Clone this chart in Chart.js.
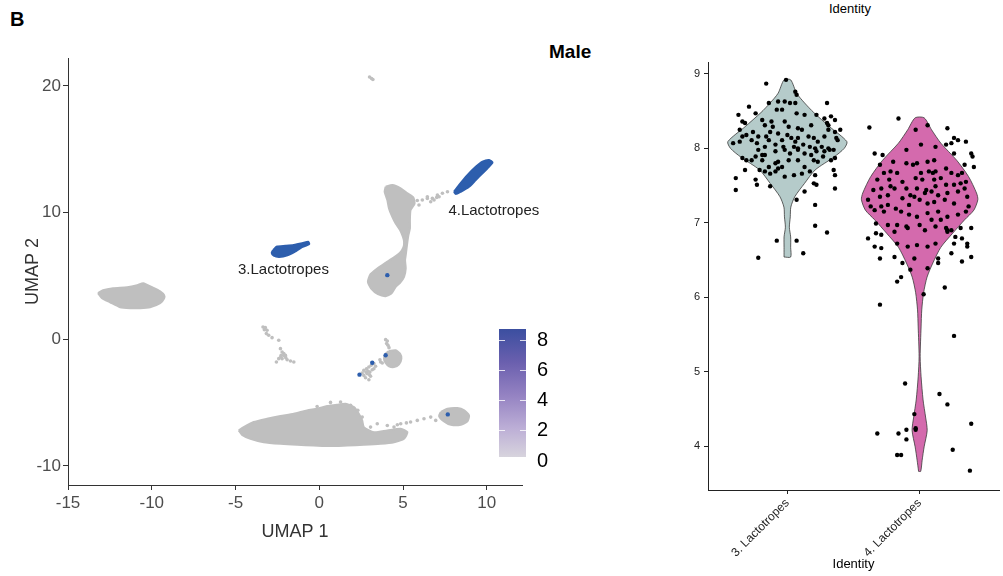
<!DOCTYPE html>
<html>
<head>
<meta charset="utf-8">
<script src="https://cdn.jsdelivr.net/npm/chart.js@4.4.1/dist/chart.umd.min.js"></script>
<style>
  body { margin: 0; background: #fff; width: 1003px; height: 576px; position: relative; overflow: hidden;
         font-family: 'Liberation Sans', Arial, sans-serif; }
  canvas { position: absolute; }
  .txt { position: absolute; white-space: nowrap; line-height: 1; color: #000; }
</style>
</head>
<body>
<div class="txt" style="left:10px;top:9px;font-size:20px;font-weight:bold;">B</div>
<div class="txt" style="left:549px;top:42px;font-size:19px;font-weight:bold;">Male</div>
<div class="txt" style="left:829px;top:2px;font-size:13px;">Identity</div>
<canvas id="umap" width="560" height="576" style="left:0;top:0"></canvas>
<canvas id="legend" width="90" height="178" style="left:490px;top:306px"></canvas>
<canvas id="violin" width="363" height="576" style="left:640px;top:0"></canvas>
<script>
var fontFam = "'Liberation Sans', Arial, sans-serif";

// ---- UMAP (linke Seite) ----
var umapTicksX = [-15, -10, -5, 0, 5, 10];
var umapTicksY = [-10, 0, 10, 20];

// Umrisse der dichten Zellhaufen
var clusterLeft = [[-13.21,3.64],[-12.91,3.87],[-12.31,4.03],[-11.47,4.11],[-10.87,4.27],[-10.51,4.43],[-9.98,4.11],
  [-9.5,3.79],[-9.26,3.48],[-9.26,3.24],[-9.5,2.85],[-10.1,2.53],[-10.69,2.45],[-11.29,2.45],[-11.89,2.53],
  [-12.49,2.92],[-12.97,3.24]];
var clusterTop = [[3.96,12.04],[4.36,12.17],[4.86,11.91],[5.26,11.52],[5.61,11.2],[5.69,10.72],[5.45,10.2],[5.41,9.41],
  [5.41,8.75],[5.32,8.22],[5.26,7.69],[5.21,7.17],[5.16,6.64],[5.12,6.25],[5.16,5.59],[5.06,4.93],[4.82,4.45],
  [4.56,4.14],[4.3,3.61],[3.96,3.4],[3.5,3.56],[3.1,4.0],[2.9,4.53],[3.06,5.14],[3.46,5.59],[3.96,6.03],[4.46,6.46],
  [4.82,6.83],[5.02,7.25],[5.06,7.69],[4.99,8.09],[4.82,8.62],[4.56,9.14],[4.36,9.67],[4.16,10.33],[4.06,10.99],[3.9,11.65]];
var clusterMid = [[4.16,-0.92],[4.56,-0.87],[4.82,-1.13],[4.9,-1.53],[4.76,-1.98],[4.46,-2.19],[4.16,-2.13],[3.96,-1.87],
  [3.86,-1.53],[3.96,-1.13]];
var clusterBottom = [[-4.81,-7.19],[-4.51,-6.93],[-3.92,-6.53],[-3.12,-6.27],[-2.32,-6.06],[-1.52,-5.88],[-0.73,-5.61],
  [-0.13,-5.48],[0.47,-5.27],[1.07,-5.16],[1.57,-5.09],[2.07,-5.35],[2.36,-5.88],[2.56,-6.4],[2.66,-6.93],[3.26,-7.33],
  [4.06,-7.19],[4.86,-7.06],[5.26,-7.33],[5.06,-7.85],[4.46,-8.12],[3.66,-8.25],[2.66,-8.33],[1.67,-8.38],[0.67,-8.43],
  [-0.33,-8.38],[-1.32,-8.33],[-2.32,-8.25],[-3.32,-8.12],[-4.11,-7.85],[-4.61,-7.54]];
var clusterBottomRight = [[7.25,-5.74],[7.65,-5.48],[8.25,-5.43],[8.65,-5.61],[8.94,-6.01],[8.84,-6.48],[8.45,-6.75],
  [7.85,-6.75],[7.45,-6.48],[7.15,-6.06]];
var lact3Outline = [[-2.76,7.04],[-2.52,7.32],[-2.02,7.38],[-1.53,7.45],[-1.02,7.58],[-0.66,7.69],[-0.6,7.52],[-1.1,7.22],
  [-1.45,6.92],[-1.9,6.62],[-2.4,6.5],[-2.72,6.6],[-2.84,6.82]];
var lact4Outline = [[8.04,11.64],[8.34,12.17],[8.84,12.96],[9.34,13.62],[9.74,14.02],[10.14,14.15],[10.34,13.94],
  [10.04,13.49],[9.74,13.1],[9.34,12.57],[8.94,12.04],[8.44,11.64],[8.15,11.46]];

// einzelne Zellen ausserhalb der Haufen
var grayCells = [[6.15,10.99],[6.45,11.25],[6.45,11.12],[6.65,10.86],[6.75,11.12],[6.85,10.99],[7.01,11.2],[7.05,11.38],
  [7.15,11.25],[7.35,11.52],[7.65,11.64],[5.85,10.95],[5.95,10.6],
  [3.0,20.7],[3.12,20.58],[3.2,20.5],
  [-3.36,0.97],[-3.22,0.92],[-3.12,0.71],[-3.28,0.76],[-3.16,0.45],[-3.02,0.32],[-2.82,0.13],[-2.42,-0.08],
  [-2.32,-0.74],[-2.22,-1.0],[-2.12,-1.13],[-2.02,-1.27],[-2.22,-1.53],[-2.42,-1.53],[-1.92,-1.61],[-1.72,-1.71],
  [-1.52,-1.79],[-2.56,-1.79],[-2.12,-1.27],[-2.28,-1.27],[-2.0,-1.45],[-2.3,-1.4],
  [3.96,-0.03],[4.06,-0.13],[4.02,-0.34],[4.1,-0.47],[4.16,-0.66],[3.66,-1.79],[3.76,-1.87],[3.62,-1.61],
  [2.66,-2.45],[2.82,-2.32],[2.96,-2.19],[3.1,-2.05],[3.26,-1.92],[3.36,-2.13],[3.16,-2.4],[3.02,-2.58],[2.86,-2.71],
  [2.66,-2.85],[2.56,-2.66],[2.76,-3.03],[2.96,-3.19],[3.06,-2.92],[3.26,-2.32],[2.9,-2.5],[3.0,-2.8],[2.8,-2.6],
  [3.06,-6.93],[3.46,-6.67],[4.06,-6.8],[4.46,-6.93],[4.86,-6.67],[5.45,-6.53],[5.85,-6.4],[6.25,-6.27],[6.65,-6.14],
  [6.95,-6.4],[4.66,-6.75],[5.2,-6.6],
  [0.67,-4.98],[1.27,-4.95],[-0.13,-5.3],[1.87,-5.2],[2.3,-5.6],[2.56,-6.14]];
var blueCells = [[3.96,-1.26],[3.16,-1.85],[2.4,-2.79],[7.67,-5.93],[4.06,5.06]];

var clusterLabels = ['3.Lactotropes', '4.Lactotropes'];
var clusterLabelPos = [[-2.14, 5.45], [10.42, 10.12]];

// Farbskala
var legendTicks = [0, 2, 4, 6, 8];
var legendRange = [0.29, 8.78];

// ---- Violinen (rechte Seite) ----
var identities = ['3. Lactotropes', '4. Lactotropes'];
var violinColors = ['#b5cbca', '#d46aad'];
var exprTicks = [4, 5, 6, 7, 8, 9];

var lact3Levels = [6.54, 6.67, 6.81, 6.94, 7.08, 7.21, 7.35, 7.53, 7.71, 7.88, 8.0, 8.09, 8.29, 8.48, 8.61, 8.74, 8.92];
var lact3Width = [0.025, 0.025, 0.025, 0.015, 0.022, 0.026, 0.056, 0.13, 0.21, 0.35, 0.43, 0.45, 0.32, 0.2, 0.13, 0.07, 0.025];
var lact4Levels = [3.66, 3.81, 3.99, 4.21, 4.39, 4.62, 4.93, 5.2, 5.6, 5.83, 6.06, 6.27, 6.46, 6.67, 6.86, 7.04, 7.17,
  7.31, 7.4, 7.62, 7.84, 8.07, 8.25, 8.41];
var lact4Width = [0.008, 0.019, 0.034, 0.057, 0.045, 0.026, 0.011, 0.004, 0.011, 0.016, 0.03, 0.056, 0.1, 0.16, 0.25,
  0.34, 0.41, 0.44, 0.43, 0.37, 0.28, 0.16, 0.09, 0.034];

// [Jitter, Ausdruck]
var lact3Cells = [[-0.16,8.87],[-0.01,8.92],[0.06,8.76],[0.07,8.72],[-0.07,8.63],[-0.02,8.63],[0.02,8.61],[0.06,8.61],
  [-0.14,8.61],[-0.29,8.56],[0.3,8.61],[-0.08,8.52],[-0.04,8.52],[-0.37,8.45],[-0.24,8.47],[-0.19,8.38],[-0.34,8.36],
  [-0.32,8.34],[0.07,8.47],[0.13,8.45],[0.22,8.45],[0.28,8.4],[0.33,8.43],[0.36,8.38],[0.3,8.34],[0.31,8.31],
  [-0.36,8.25],[-0.26,8.22],[-0.17,8.31],[-0.12,8.36],[-0.11,8.29],[-0.02,8.36],[0.01,8.29],[0.08,8.27],[0.11,8.25],
  [0.18,8.31],[0.31,8.25],[0.36,8.22],[0.4,8.25],[-0.41,8.07],[-0.34,8.16],[-0.31,8.18],[-0.27,8.11],[-0.22,8.16],
  [-0.16,8.16],[-0.14,8.11],[-0.13,8.22],[-0.07,8.2],[-0.04,8.11],[0.0,8.18],[0.03,8.14],[0.06,8.09],[0.08,8.14],
  [0.16,8.16],[0.2,8.14],[0.23,8.09],[0.28,8.16],[0.37,8.14],[0.38,8.11],[-0.36,8.09],[-0.23,8.07],[-0.17,8.02],
  [-0.09,8.05],[-0.03,8.02],[0.05,8.02],[0.08,8.0],[0.12,8.05],[0.17,8.02],[0.21,8.0],[0.26,8.02],[0.31,8.0],
  [0.35,7.98],[-0.22,7.98],[-0.24,7.89],[-0.19,7.91],[-0.17,7.91],[-0.09,7.96],[-0.02,7.98],[0.02,7.93],[0.08,7.98],
  [0.13,7.93],[0.18,7.91],[0.22,7.96],[0.28,7.96],[0.32,7.98],[0.36,7.87],[-0.34,7.87],[-0.31,7.84],[-0.27,7.84],
  [-0.19,7.84],[-0.14,7.75],[-0.09,7.8],[-0.07,7.82],[-0.04,7.75],[0.01,7.84],[0.08,7.84],[0.13,7.75],[0.2,7.84],
  [0.23,7.82],[0.27,7.89],[0.33,7.84],[0.35,7.71],[0.36,7.64],[-0.32,7.71],[-0.21,7.71],[-0.17,7.69],[-0.13,7.66],
  [-0.09,7.69],[-0.07,7.73],[-0.02,7.62],[0.05,7.64],[0.11,7.66],[0.17,7.69],[0.21,7.64],[-0.39,7.6],[-0.24,7.58],
  [-0.23,7.51],[-0.13,7.49],[-0.39,7.44],[0.2,7.53],[0.22,7.51],[0.36,7.46],[0.13,7.42],[0.07,7.31],[0.21,7.24],
  [0.21,6.96],[0.3,6.87],[-0.08,6.76],[0.07,6.76],[0.12,6.59],[-0.22,6.53]];
var lact4Cells = [[-0.16,8.4],[-0.38,8.28],[0.06,8.31],[0.21,8.27],[-0.03,8.25],[0.26,8.14],[0.29,8.11],[0.35,8.09],
  [0.24,8.07],[-0.34,7.93],[-0.28,7.91],[-0.1,7.98],[0.01,8.05],[0.12,8.02],[0.2,8.05],[0.26,7.93],[0.39,7.93],
  [0.4,7.89],[-0.3,7.78],[-0.2,7.82],[-0.1,7.8],[-0.05,7.78],[-0.02,7.8],[0.06,7.82],[0.11,7.84],[0.2,7.73],
  [0.34,7.78],[0.41,7.75],[-0.27,7.67],[-0.22,7.69],[-0.17,7.67],[0.01,7.67],[0.07,7.69],[0.1,7.67],[0.12,7.69],
  [0.24,7.67],[0.29,7.64],[0.32,7.67],[-0.32,7.58],[-0.23,7.58],[-0.13,7.55],[-0.03,7.6],[0.02,7.58],[0.11,7.58],
  [0.16,7.6],[0.31,7.53],[0.35,7.55],[-0.35,7.44],[-0.29,7.46],[-0.22,7.49],[-0.19,7.46],[-0.1,7.46],[-0.02,7.46],
  [0.05,7.44],[0.12,7.49],[0.2,7.51],[0.26,7.51],[0.34,7.46],[-0.39,7.31],[-0.3,7.35],[-0.24,7.37],[-0.13,7.33],
  [-0.07,7.37],[-0.04,7.35],[0.04,7.4],[0.09,7.42],[0.14,7.37],[0.21,7.4],[0.29,7.42],[0.36,7.35],[-0.37,7.22],
  [-0.29,7.22],[-0.24,7.24],[-0.18,7.19],[-0.08,7.24],[0.0,7.31],[0.06,7.26],[0.11,7.28],[0.19,7.31],[0.26,7.26],
  [0.37,7.22],[-0.34,7.17],[-0.27,7.15],[-0.14,7.15],[-0.08,7.11],[-0.02,7.08],[0.06,7.13],[0.14,7.15],[0.21,7.08],
  [0.29,7.11],[0.35,7.15],[-0.33,6.99],[-0.24,6.97],[-0.17,6.97],[-0.09,6.93],[0.0,6.97],[0.09,7.04],[0.16,7.04],
  [0.2,6.93],[0.21,6.9],[0.21,6.88],[0.24,6.9],[0.31,6.93],[0.39,6.93],[-0.39,6.79],[-0.33,6.86],[-0.29,6.84],
  [-0.19,6.88],[-0.1,6.95],[0.04,6.9],[0.12,6.95],[0.27,6.81],[0.32,6.79],[0.36,6.72],[-0.34,6.68],[-0.29,6.66],
  [-0.17,6.72],[-0.09,6.68],[-0.02,6.7],[0.06,6.68],[0.12,6.72],[0.26,6.72],[0.36,6.68],[0.39,6.54],[-0.3,6.52],
  [-0.19,6.54],[-0.04,6.52],[0.14,6.52],[0.24,6.59],[0.32,6.48],[-0.13,6.46],
  [-0.07,6.37],[0.14,6.46],[-0.17,6.21],[-0.14,6.27],[0.06,6.39],[0.19,6.13],[0.03,6.04],[-0.3,5.9],[0.26,5.48],
  [-0.11,4.84],[0.15,4.7],[0.21,4.56],[-0.04,4.43],[0.39,4.3],[-0.32,4.17],[-0.16,4.17],[-0.1,4.22],[-0.03,4.24],
  [-0.03,4.22],[-0.1,4.09],[0.25,3.95],[-0.17,3.88],[-0.14,3.88],[0.38,3.67]];

function toPoints(list) {
    return list.map(p => ({x: p[0], y: p[1]}));
}

function closedShape(list) {
    var pts = toPoints(list);
    pts.push(pts[0]);
    return pts;
}

function violinShape(center, levels, widths) {
    var left = levels.map((y, i) => ({x: center - widths[i], y: y}));
    var right = levels.map((y, i) => ({x: center + widths[i], y: y})).reverse();
    return left.concat(right, [left[0]]);
}

function polyDataset(list, color) {
    return {
        data: closedShape(list),
        showLine: true,
        fill: 'shape',
        backgroundColor: color,
        borderColor: color,
        borderWidth: 2,
        tension: 0.2,
        pointRadius: 0
    };
}

function fixTicks(values) {
    return function(axis) {
        axis.ticks = values.map(v => ({value: v}));
    };
}

// Beschriftung der Cluster direkt im Plot
var clusterLabelPlugin = {
    id: 'clusterLabels',
    afterDatasetsDraw(chart) {
        var ctx = chart.ctx;
        ctx.save();
        ctx.font = '15px ' + fontFam;
        ctx.fillStyle = '#222';
        ctx.textAlign = 'center';
        ctx.textBaseline = 'middle';
        clusterLabels.forEach((txt, i) => {
            ctx.fillText(txt, chart.scales.x.getPixelForValue(clusterLabelPos[i][0]),
                chart.scales.y.getPixelForValue(clusterLabelPos[i][1]));
        });
        ctx.restore();
    }
};

var gray = '#bfbfbf';
var blue = '#2d5ead';

new Chart(document.getElementById('umap').getContext('2d'), {
    type: 'scatter',
    data: {
        datasets: [
            {data: toPoints(blueCells), backgroundColor: blue, pointRadius: 2.2, borderWidth: 0},
            polyDataset(lact3Outline, blue),
            polyDataset(lact4Outline, blue),
            {data: toPoints(grayCells), backgroundColor: gray, pointRadius: 1.8, borderWidth: 0},
            polyDataset(clusterLeft, gray),
            polyDataset(clusterTop, gray),
            polyDataset(clusterMid, gray),
            polyDataset(clusterBottom, gray),
            polyDataset(clusterBottomRight, gray)
        ]
    },
    options: {
        responsive: false,
        animation: false,
        layout: {padding: {top: 58, right: 38, left: 0, bottom: 0}},
        plugins: {legend: {display: false}, tooltip: {enabled: false}},
        scales: {
            x: {
                type: 'linear', min: -15, max: 12.1,
                afterBuildTicks: fixTicks(umapTicksX),
                afterFit: (a) => { a.height = 91; },
                border: {color: '#333', width: 1},
                grid: {drawOnChartArea: false, tickLength: 5, color: '#333'},
                ticks: {font: {size: 17, family: fontFam}, color: '#4d4d4d', padding: 3, maxRotation: 0},
                title: {display: true, text: 'UMAP 1', font: {size: 18, family: fontFam}, color: '#333',
                        padding: {top: 0, bottom: 33}}
            },
            y: {
                type: 'linear', min: -11.5, max: 22.2,
                afterBuildTicks: fixTicks(umapTicksY),
                afterFit: (a) => { a.width = 68; },
                border: {color: '#333', width: 1},
                grid: {drawOnChartArea: false, tickLength: 5, color: '#333'},
                ticks: {font: {size: 17, family: fontFam}, color: '#4d4d4d', padding: 2},
                title: {display: true, text: 'UMAP 2', font: {size: 18, family: fontFam}, color: '#333',
                        padding: {top: 22, bottom: 0}}
            }
        }
    },
    plugins: [clusterLabelPlugin]
});

// Farbskala als einzelner Balken
new Chart(document.getElementById('legend').getContext('2d'), {
    type: 'bar',
    data: {
        labels: ['expr'],
        datasets: [{
            data: [legendRange],
            barPercentage: 1,
            categoryPercentage: 1,
            borderSkipped: false,
            backgroundColor: function(c) {
                var area = c.chart.chartArea;
                if (!area) return '#8a7bbf';
                var g = c.chart.ctx.createLinearGradient(0, area.bottom, 0, area.top);
                g.addColorStop(0, '#dbd9de');
                g.addColorStop(0.25, '#bcaed6');
                g.addColorStop(0.5, '#9482c2');
                g.addColorStop(0.75, '#6a5fae');
                g.addColorStop(1, '#3b4fa0');
                return g;
            }
        }]
    },
    options: {
        responsive: false,
        animation: false,
        layout: {padding: {top: 0, bottom: 0, left: 9, right: 0}},
        plugins: {legend: {display: false}, tooltip: {enabled: false}},
        scales: {
            x: {display: false},
            y: {
                position: 'right', min: 0, max: legendRange[1],
                afterBuildTicks: fixTicks(legendTicks),
                afterFit: (a) => { a.width = 54; },
                border: {display: false, dash: [6, 15]},
                grid: {drawTicks: false, color: 'rgba(255,255,255,0.8)', z: 1},
                ticks: {font: {size: 20, family: fontFam}, color: '#000', padding: 11}
            }
        }
    }
});

// Violinen mit Einzelzellen
new Chart(document.getElementById('violin').getContext('2d'), {
    type: 'scatter',
    data: {
        datasets: [
            {data: lact3Cells.map(p => ({x: 1 + p[0], y: p[1]})), backgroundColor: '#000', pointRadius: 2.2, borderWidth: 0},
            {data: lact4Cells.map(p => ({x: 2 + p[0], y: p[1]})), backgroundColor: '#000', pointRadius: 2.2, borderWidth: 0},
            {data: violinShape(1, lact3Levels, lact3Width), showLine: true, fill: 'shape', tension: 0.25,
             backgroundColor: violinColors[0], borderColor: '#3a3a3a', borderWidth: 0.8, pointRadius: 0},
            {data: violinShape(2, lact4Levels, lact4Width), showLine: true, fill: 'shape', tension: 0.25,
             backgroundColor: violinColors[1], borderColor: '#3a3a3a', borderWidth: 0.8, pointRadius: 0}
        ]
    },
    options: {
        responsive: false,
        animation: false,
        layout: {padding: {top: 62, right: 0, left: 0, bottom: 0}},
        plugins: {legend: {display: false}, tooltip: {enabled: false}},
        scales: {
            x: {
                type: 'linear', min: 0.4, max: 2.6,
                afterBuildTicks: fixTicks([1, 2]),
                afterFit: (a) => { a.height = 86; },
                border: {color: '#222', width: 1},
                grid: {drawOnChartArea: false, tickLength: 4, color: '#222'},
                ticks: {font: {size: 12, family: fontFam}, color: '#222', padding: 2,
                        minRotation: 45, maxRotation: 45,
                        callback: (v) => identities[Math.round(v) - 1]},
                title: {display: true, text: 'Identity', font: {size: 13, family: fontFam}, color: '#000',
                        padding: {top: 0, bottom: 4}}
            },
            y: {
                type: 'linear', min: 3.41, max: 9.16,
                afterBuildTicks: fixTicks(exprTicks),
                afterFit: (a) => { a.width = 68; },
                border: {color: '#222', width: 1},
                grid: {drawOnChartArea: false, tickLength: 4, color: '#222'},
                ticks: {font: {size: 11, family: fontFam}, color: '#222', padding: 4}
            }
        }
    }
});
</script>
</body>
</html>
